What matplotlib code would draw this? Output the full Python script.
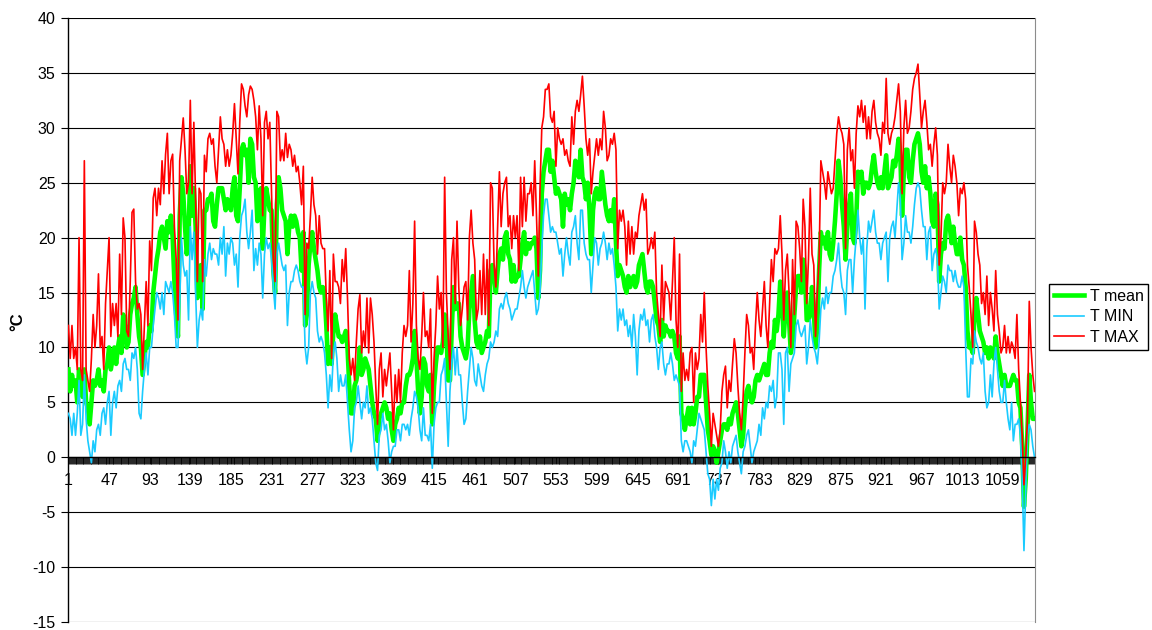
import numpy as np
import matplotlib
matplotlib.use('Agg')
import matplotlib.pyplot as plt

# Daily temperatures (read every 2nd day from the chart), degrees C
t_mean = [
    8, 6, 7.5, 6.5, 7, 5, 8, 6, 5.5, 8, 5, 4.5, 3, 5, 7, 6.5, 7, 8, 6.5, 7,
    6, 8, 8.5, 10, 8, 9, 10, 8.5, 10, 11, 9.5, 13, 12, 10, 10.5, 13, 14, 14.5, 15.5, 13,
    11, 10, 7.5, 9, 10.5, 10, 12, 11.5, 15, 16.5, 18, 19, 20.5, 21, 20, 19, 21.5, 20.5, 22, 20,
    16, 13, 11, 22, 25.5, 24, 21, 18.5,
    20, 26.5, 22, 24.5, 21, 14.5, 15, 17.5, 13.5, 22.5, 22.5, 23.5, 23.5, 24, 21.5, 21, 23, 24.5, 24.5, 24.5,
    23.5, 22.5, 23.5, 23, 22.5, 24.5, 25.5, 22, 21.5, 24.5, 28, 28.5, 27.5, 28, 25, 29, 28.5, 25.5, 25, 21.5,
    24, 24.5, 19, 23, 24.5, 23.5, 22.5, 22.5, 17, 15, 23, 25.5, 24.5, 22.5, 22, 21.5, 18.5, 21, 22, 21,
    22, 21.5, 20.5, 20, 17, 20.5, 12, 13,
    17.5, 19.5, 20.5, 19, 18, 17, 15.5, 15, 15.5, 15, 12, 8.5, 10, 8.5, 11.5, 13, 12, 11, 11, 10.5,
    11, 11.5, 10, 6.5, 4, 4, 6.5, 7, 8, 10, 7.5, 8, 9, 8.5, 8, 6.5, 5, 4, 3.5, 1.5,
    3.5, 4, 4.5, 5, 4.5, 3.5, 4, 2.5, 1.5, 3, 3.5, 4.5, 4, 5, 5, 6.5, 7.5, 7.5, 8, 9,
    11.5, 9, 6, 4, 5.5, 9, 8.5, 6.5,
    6, 7.5, 3, 6.5, 8.5, 10, 10, 9.5, 10.5, 13, 11.5, 7, 7, 11.5, 15.5, 13.5, 14, 14, 11, 10,
    9.5, 9, 10, 13.5, 15, 16.5, 12.5, 10.5, 10, 11, 9.5, 10, 10.5, 11.5, 11, 17, 17.5, 16.5, 15, 17,
    18.5, 19, 18, 20, 20.5, 18.5, 18, 16, 17.5, 16, 16.5, 16.5, 18, 19.5, 20.5, 18.5, 19.5, 19, 19.5, 19.5,
    20, 19, 14.5, 17, 24, 26, 27, 28,
    28, 26, 27, 25.5, 24, 24.5, 24, 23.5, 21, 24, 23, 23.5, 22.5, 24, 25, 27, 26.5, 25.5, 28, 25.5,
    25, 23.5, 25, 22.5, 18.5, 22.5, 24, 24.5, 23.5, 23.5, 26, 24.5, 23, 22, 21.5, 22.5, 21.5, 23.5, 19.5, 16.5,
    17.5, 17, 16.5, 15.5, 15, 16.5, 15.5, 16, 16.5, 15.5, 16, 17.5, 18, 18.5, 17, 15.5, 15, 16, 16, 15.5,
    14, 12.5, 12, 10.5, 12.5, 11, 12, 11.5,
    11.5, 11, 11.5, 11, 9.5, 9, 11, 4, 3.5, 2.5, 3.5, 4.5, 3, 4.5, 3, 4, 5.5, 5.5, 7.5, 7.5,
    7.5, 5, 2.5, 1.5, 0.2, 1, 0.5, -0.5, 0.5, 1.5, 2.5, 3, 3, 2.5, 3.5, 3, 4, 4.5, 5, 4,
    2.5, 1, 2, 4.5, 6, 6.5, 5.5, 5, 5.5, 7, 7.5, 7, 7.5, 8, 8.5, 7.5, 7.5, 9.5, 10.5, 10,
    12.5, 11.5, 13, 16, 14, 11, 13.5, 15,
    12.5, 9.5, 10.5, 13, 15.5, 16.5, 16.5, 15, 18, 17, 12.5, 12.5, 13, 15.5, 13.5, 10, 12, 17, 20.5, 19.5,
    20, 19, 20.5, 18.5, 18, 19.5, 21.5, 24, 27, 25.5, 23, 21, 18, 21, 23, 24, 20, 19.5, 21.5, 26,
    25.5, 26, 24, 25, 25, 24.5, 25, 26.5, 27.5, 26, 25, 24.5, 25.5, 24.5, 26, 27.5, 24.5, 25, 25.5, 27,
    26.5, 27.5, 29, 27.5, 22, 26, 28, 28,
    25.5, 25, 27, 28.5, 29, 29.5, 28.5, 26, 25, 26.5, 24.5, 25.5, 24, 21.5, 21, 24, 23, 16, 18.5, 19.5,
    19, 21.5, 22, 21, 19.5, 21, 19.5, 18.5, 18.5, 20, 18, 17.5, 15.5, 11.5, 10, 10, 9.5, 13, 14.5, 13,
    11.5, 11, 10.5, 9.5, 10, 9, 10, 9.5, 9, 11, 9.5, 8.5, 7.5, 6.5, 7.5, 6.5, 6.5, 6.5, 7, 7.5,
    7, 7, 5, 4.5, 1, -4.5, -2, 2.5, 7.5, 5, 3.5, 3.5,
]

t_min = [
    4, 3.5, 2, 4, 2, 4, 7, 2, 3, 7.5, 3.5, 1.5, 0.5, -0.5, 1.5, 0.5, 2.5, 3, 2, 4,
    4.5, 3, 5, 6, 2, 5, 6, 4.5, 6.5, 7, 6, 8.5, 9, 8, 8, 7, 9.5, 9, 10, 8,
    4, 3.5, 6, 8, 9.5, 7.5, 10, 10, 12, 13.5, 15, 14.5, 13.5, 15, 13, 16, 15.5, 15, 16, 15,
    13, 10, 10, 14, 20, 17.5, 16.5, 17,
    12.5, 21, 18, 20.5, 15, 10, 12.5, 13.5, 12.5, 18, 16.5, 18.5, 19.5, 18, 19, 18.5, 18.5, 17.5, 20, 18.5,
    21, 16.5, 19.5, 18.5, 20, 19.5, 17.5, 18.5, 15.5, 20, 22, 22.5, 23.5, 20.5, 19, 20.5, 22.5, 17, 19, 17.5,
    19.5, 18.5, 14.5, 18.5, 20, 19, 19.5, 18, 15.5, 13.5, 18.5, 19.5, 18.5, 17.5, 17, 17.5, 12, 15, 16, 16,
    17, 17.5, 17, 16, 15.5, 15.5, 10, 8.5,
    10, 15, 16, 15, 14.5, 11.5, 10.5, 11, 10.5, 9.5, 7.5, 4.5, 7.5, 6, 9.5, 10.5, 9, 6, 7.5, 6.5,
    6.5, 7.5, 5, 2.5, 0.5, 1.5, 4.5, 5, 6.5, 5, 3.5, 5, 4.5, 6.5, 4, 4.5, 3.5, 1.5, -0.5, -1.2,
    2, 2.5, 4, 2.5, 3, 1.5, -0.5, 0.5, 1, 1, 2.5, 2.5, 1.5, 3, 3, 2.5, 3, 2, 3.5, 4.5,
    6, 5.5, 4.5, 2.5, 1.5, 4.5, 2, 2,
    1.5, 3, -1, 3, 4.5, 5, 5, 7.5, 8, 9, 5, 1, 6, 8.5, 10, 7.5, 10, 7.5, 7.5, 5,
    3, 3.5, 6, 8, 10, 9, 7, 6.5, 8.5, 7.5, 6.5, 6, 7.5, 8.5, 9, 10.5, 10, 10.5, 11.5, 11,
    13.5, 14, 13.5, 14.5, 15, 14, 13.5, 12.5, 13, 13.5, 13.5, 14.5, 15.5, 17, 15.5, 14.5, 15.5, 16, 16.5, 17,
    15, 13, 13.5, 15, 19, 22, 23.5, 23.5,
    22, 20.5, 21, 20.5, 20.5, 19.5, 18.5, 19, 16.5, 18.5, 20, 18.5, 17.5, 20.5, 21, 22, 19.5, 18, 22.5, 22.5,
    19.5, 18.5, 18, 18, 15, 17.5, 20, 19.5, 17.5, 19, 19.5, 20.5, 19.5, 18, 19.5, 18.5, 19, 17.5, 15.5, 11.5,
    13.5, 12.5, 13.5, 12, 12.5, 11, 12, 10, 13, 11, 7.5, 11.5, 13, 12.5, 13.5, 12, 12.5, 10.5, 12.5, 13,
    11, 10, 8, 10, 10.5, 8.5, 7.5, 8.5,
    8.5, 9.5, 8.5, 7, 7.5, 7, 6.5, 1.5, 0.5, 1.5, 1.5, 1, 0.5, -0.5, 1.5, 1, 2.5, 4, 3.5, 3,
    2.5, 0.5, -1.5, -2, -4.4, -2, -3.8, -2, -3, -1, -0.5, 1.5, 0.5, -1, 0.5, -0.5, 1, 1.5, 2, 0.5,
    -0.5, -1.5, 0.5, 1, 2, 2.5, 1, -0.5, 0.5, 1, 1.5, 3, 2, 4.5, 3.5, 5, 4.5, 6.5, 6, 7,
    4.5, 5.5, 9.5, 9.5, 8, 3, 9.5, 10,
    6, 8.5, 9, 9.5, 12, 12.5, 11.5, 11, 11.5, 12, 8.5, 10, 12.5, 11, 10, 9.5, 8.5, 10.5, 13.5, 14.5,
    13.5, 15.5, 14, 15, 15, 16.5, 17, 18, 19.5, 17, 15.5, 15, 13, 17, 18, 18, 15, 18, 20, 22.5,
    20, 18.5, 20, 13.5, 19, 21.5, 20.5, 21.5, 22.5, 20.5, 19.5, 19.5, 18, 19.5, 20, 20.5, 16, 20, 21, 21.5,
    20, 22.5, 25, 23.5, 18, 19.5, 22, 20.5,
    20.5, 19.5, 21, 23, 24.5, 25, 24.5, 22.5, 21, 21, 18, 20.5, 21, 17, 18.5, 19, 18, 13.5, 15, 16.5,
    16, 15, 17.5, 17, 17, 16, 17, 16, 15.5, 15.5, 16.5, 15.5, 10, 5.5, 5.5, 9, 8.5, 11.5, 10.5, 10,
    9, 8.5, 9.5, 6, 4.5, 5, 7.5, 5.5, 8.5, 10, 8, 6, 5, 5, 7, 5, 3.5, 2.5, 5, 1.5,
    3, 3, 3.5, 2, -2, -8.5, -3, 2, 3, 2.5, 1, 0,
]

t_max = [
    12, 9, 12, 9, 10, 8, 20, 8, 7, 27, 8, 7, 6, 9, 13, 10, 12, 16.7, 10, 11,
    8, 14, 17, 20, 11, 14, 12, 14, 11, 18.5, 13, 21.8, 20, 11.5, 11, 16, 22.3, 22.6, 16, 13.5,
    14, 13, 8, 12, 16, 12, 19.7, 17, 23.6, 24.5, 22, 24.5, 23, 27, 24, 27.6, 29.5, 24, 27, 27.6,
    21, 18, 12.5, 27, 29, 30.9, 28, 24,
    25, 32.5, 24, 30.5, 23.5, 16, 24.5, 24, 16, 27.5, 26, 29, 29.5, 28.5, 29, 26.5, 25, 28, 31, 29,
    28.5, 26.5, 28, 26.5, 27.5, 29.5, 32.2, 29, 25.8, 30.5, 34, 33.5, 32, 31, 33, 33.8, 33.5, 32.5, 31, 28,
    32, 29, 22, 30.5, 31.5, 29, 30.5, 24, 18, 16, 31.5, 31, 27, 28, 27, 29.5, 27.3, 28.5, 28, 26.5,
    27.5, 26, 26.5, 25, 23, 26.5, 13, 19.5,
    19, 22, 25.5, 23, 22, 18.5, 22, 19.5, 19, 19, 14.5, 11.5, 17, 9, 18.5, 16, 16, 15.5, 14, 18,
    16, 19, 14.5, 9, 7.5, 9, 7, 10.5, 13.5, 14.8, 9.5, 11.5, 10, 14.5, 9.5, 14.5, 13, 10.5, 6.5, 3,
    8, 9.5, 5.5, 8, 6.5, 8, 9.5, 6, 2.5, 7.5, 5, 8, 5, 9.5, 12, 11, 12, 17, 10.5, 14,
    21.5, 12, 9, 8, 11, 15, 11, 11.5,
    10, 13.5, 4, 9, 12, 16.5, 13.5, 15, 10, 25.5, 15, 11, 8, 18, 20, 14, 21.5, 15.5, 12, 13.5,
    15.5, 16, 12.5, 20, 22.5, 19.5, 18, 12.5, 13.5, 17, 13, 18.5, 13, 18, 12, 25, 24.5, 17.5, 15.5, 21,
    26, 21, 24, 25, 25.5, 21, 22, 19, 22, 20, 22, 17, 25.5, 21, 25.5, 21.5, 24, 24, 25, 22,
    27, 22, 16.5, 24.5, 30, 31, 33.5, 33.5,
    34, 31, 30.5, 31.5, 26.5, 30, 29, 28.5, 29, 27.5, 28, 27, 26.5, 31, 28.5, 31.5, 32.5, 31.5, 33, 34.7,
    32, 29, 27.5, 29, 24, 26, 27.5, 29, 27.5, 29, 28, 31.5, 30, 27, 27.5, 29, 28.5, 29.5, 28, 19,
    22.5, 21.5, 22.5, 21, 17.5, 21.5, 18.5, 21, 18.5, 20.5, 20, 22, 23, 24, 22.5, 23.5, 18.5, 19, 20, 19,
    20.5, 15, 13, 11, 17.5, 12.5, 16, 15.5,
    15, 12.5, 16, 20, 12.5, 10, 18.5, 6, 9.5, 7, 8, 7, 9.5, 10, 5, 9.5, 8, 9, 13, 10.5,
    15, 10, 6.5, 4, 1, 4, 3, 2, 1, 2.5, 6, 7.5, 8.3, 4.5, 7, 6, 8.5, 10.8, 9.5, 6.5,
    4, 2.5, 5.5, 9.5, 13, 12, 9.5, 10, 8, 12, 15, 12.5, 11, 13.5, 16, 12, 10, 14, 18, 16,
    19, 18.5, 19, 22, 18.5, 12.5, 17, 18.5,
    15, 10, 18, 13, 21.5, 21, 19, 16, 23.5, 21, 14, 18, 24.5, 18.5, 17.5, 11, 15, 18, 27, 26,
    25, 23.5, 26, 25, 24, 24.5, 27, 29.5, 31, 30, 29.5, 28.5, 19, 28, 30, 27, 28, 24.5, 29.5, 32,
    31, 32.5, 30.5, 32, 29, 31, 29, 31.5, 32.5, 30.5, 29.5, 29, 27.5, 30.5, 29.5, 34.5, 29.5, 28.5, 29.5, 30,
    31, 32.5, 34, 31.5, 24, 30, 32.5, 29.5,
    30, 31.5, 33.5, 34.5, 35, 35.8, 33, 30, 31.5, 32.5, 30.5, 28, 28.5, 26.5, 28.5, 30, 27.5, 17.5, 20, 25,
    24, 25, 28.5, 26.5, 25, 27.5, 26.5, 25, 22, 24.5, 24, 25, 23.5, 17.5, 15.5, 13, 10, 21.5, 20.5, 18.5,
    17.5, 14, 15, 13, 16.5, 12, 15, 13.5, 11.5, 17, 13, 11.5, 9.5, 10, 12, 9.5, 11, 9.5, 10.5, 10,
    9, 13, 8, 5, 2, -2.5, 0, 3.5, 14.2, 10, 7.5, 6,
]

n_days = 1095
tick_days = list(range(1, n_days + 1, 46))   # 1, 47, 93, ... 1059
y_ticks = list(range(-15, 41, 5))

plt.rcParams['font.family'] = ['Liberation Sans', 'DejaVu Sans']
plt.rcParams['axes.unicode_minus'] = False

W, H = 1152, 630
fig = plt.figure(figsize=(W / 100, H / 100), dpi=100)
ax = fig.add_axes([68 / W, (H - 622) / H, (1035 - 68) / W, (622 - 18) / H])


def days_of(values):
    return np.arange(1, 2 * len(values), 2)


ax.plot(days_of(t_mean), t_mean, color='#00FF00', lw=3.3, label='T mean', zorder=3)
ax.plot(days_of(t_min), t_min, color='#1ACBFF', lw=1.2, label='T MIN', zorder=4)
ax.plot(days_of(t_max), t_max, color='#FF0000', lw=1.2, label='T MAX', zorder=5)

ax.set_xlim(0.5, n_days + 0.5)
ax.set_ylim(-15, 40)
ax.set_yticks(y_ticks)
ax.grid(axis='y', color='#000000', lw=0.8, zorder=1)
ax.set_axisbelow(True)

ax.spines['bottom'].set_position(('data', 0))
ax.spines['bottom'].set_linewidth(1.0)
ax.spines['bottom'].set_zorder(6)
ax.spines['top'].set_visible(False)
ax.spines['left'].set_linewidth(1.0)
ax.spines['right'].set_color('#8c8c8c')

ax.set_xticks(tick_days)
ax.set_xticklabels([str(d) for d in tick_days])
ax.set_xticks(np.arange(1, n_days + 1), minor=True)
ax.tick_params(axis='x', which='major', direction='out', length=5, width=0.7,
               pad=6, labelsize=11.5)
ax.tick_params(axis='x', which='minor', direction='out', length=5, width=0.6,
               color='#000000')
ax.tick_params(axis='y', direction='out', length=5, width=0.8, pad=4, labelsize=11.5)

fig.text(18 / W, 1 - 322 / H, '°C', rotation=90, fontsize=12, fontweight='bold',
         ha='center', va='center')

leg = fig.legend(loc='upper left', bbox_to_anchor=(1049 / W, 1 - 284 / H),
                 frameon=True, fancybox=False, edgecolor='black', framealpha=1,
                 fontsize=11.5, handlelength=1.9, handletextpad=0.35,
                 labelspacing=0.35, borderpad=0.3, borderaxespad=0)
leg.get_frame().set_linewidth(1.0)

fig.savefig('out.png', dpi=100)
